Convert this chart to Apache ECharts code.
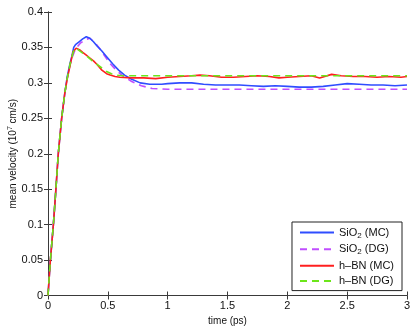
<!DOCTYPE html>
<html><head><meta charset="utf-8">
<script src="https://cdn.jsdelivr.net/npm/echarts@6/dist/echarts.min.js"></script>
<style>html,body{margin:0;padding:0;background:#fff}#c{width:415px;height:326px}</style>
</head><body><div id="c"></div>
<script>
// Data (time in ps, mean velocity in 1e7 cm/s)
const tSiO2MC = [0,0.02,0.045,0.066,0.086,0.114,0.14,0.16,0.185,0.2,0.215,0.23,0.26,0.29,0.32,0.35,0.38,0.41,0.45,0.49,0.54,0.59,0.64,0.7,0.77,0.85,0.95,1.0,1.1,1.2,1.3,1.4,1.5,1.6,1.7,1.8,1.9,2.0,2.1,2.2,2.3,2.4,2.5,2.6,2.7,2.8,2.9,3.0];
const vSiO2MC = [0,0.05,0.1,0.15,0.2,0.25,0.285,0.308,0.328,0.338,0.35,0.354,0.358,0.362,0.365,0.363,0.358,0.352,0.345,0.337,0.327,0.318,0.311,0.305,0.3,0.298,0.298,0.299,0.300,0.300,0.298,0.297,0.297,0.297,0.296,0.295,0.296,0.295,0.294,0.294,0.295,0.297,0.299,0.298,0.297,0.297,0.296,0.297];
const tSiO2DG = [0,0.02,0.045,0.066,0.086,0.114,0.14,0.16,0.185,0.2,0.23,0.27,0.31,0.35,0.39,0.43,0.47,0.52,0.57,0.63,0.7,0.78,0.87,1.0,1.5,2.0,2.5,3.0];
const vSiO2DG = [0,0.05,0.1,0.15,0.2,0.25,0.285,0.306,0.326,0.335,0.348,0.356,0.361,0.363,0.357,0.349,0.339,0.327,0.318,0.309,0.302,0.296,0.292,0.291,0.291,0.291,0.291,0.291];
const tBNMC = [0,0.02,0.045,0.066,0.086,0.114,0.14,0.16,0.185,0.21,0.235,0.25,0.27,0.29,0.32,0.35,0.38,0.41,0.45,0.49,0.52,0.56,0.6,0.7,0.8,0.9,1.0,1.1,1.2,1.27,1.35,1.45,1.55,1.65,1.75,1.85,1.93,2.0,2.1,2.2,2.27,2.37,2.45,2.55,2.65,2.75,2.85,2.95,3.0];
const vBNMC = [0,0.05,0.1,0.15,0.2,0.25,0.285,0.305,0.325,0.344,0.349,0.351,0.346,0.343,0.339,0.335,0.331,0.326,0.318,0.313,0.311,0.309,0.308,0.307,0.307,0.306,0.308,0.309,0.310,0.311,0.310,0.308,0.308,0.309,0.310,0.309,0.307,0.308,0.309,0.310,0.307,0.312,0.310,0.309,0.309,0.308,0.309,0.308,0.309];
const tBNDG = [0,0.02,0.045,0.066,0.086,0.114,0.14,0.16,0.185,0.21,0.226,0.25,0.29,0.33,0.37,0.41,0.45,0.49,0.53,0.57,0.62,0.7,0.8,1.0,1.5,2.0,2.5,3.0];
const vBNDG = [0,0.05,0.1,0.15,0.2,0.25,0.285,0.306,0.327,0.343,0.349,0.347,0.342,0.337,0.331,0.326,0.321,0.316,0.313,0.311,0.310,0.310,0.310,0.310,0.310,0.310,0.310,0.310];
const seriesNames = ['SiO2 (MC)','SiO2 (DG)','h-BN (MC)','h-BN (DG)'];
const xTicks = [0,0.5,1,1.5,2,2.5,3];
const yTicks = [0,0.05,0.1,0.15,0.2,0.25,0.3,0.35,0.4];

const zip = (t,v) => t.map((x,i)=>[x,v[i]]);
const axisColor = '#3a3a3a';
const font = 'Liberation Sans, Arial, sans-serif';
const legendRich = {
  a:{fontSize:11,fontFamily:font,color:'#111'},
  sub:{fontSize:8,fontFamily:font,color:'#111',verticalAlign:'bottom',padding:[6,0,0,0]}
};
function legendFmt(name){
  if(name.startsWith('SiO2')) return '{a|SiO}{sub|2}{a|' + name.slice(4) + '}';
  return '{a|' + name.replace('-', '\u2013') + '}';
}
const chart = echarts.init(document.getElementById('c'), null, {renderer:'canvas'});
const baseX = {type:'value',min:0,max:3,interval:0.5};
const baseY = {type:'value',min:0,max:0.4,interval:0.05};
chart.setOption({
  animation:false,
  backgroundColor:'#fff',
  grid:{left:48,top:12,right:8,bottom:30.5,show:false,containLabel:false,outerBoundsMode:'none'},
  xAxis:[
    Object.assign({},baseX,{position:'bottom',
      name:'time (ps)',nameLocation:'middle',nameGap:21,nameMoveOverlap:false,
      nameTextStyle:{fontSize:10,fontFamily:font,color:'#111'},
      axisLine:{lineStyle:{color:axisColor,width:1}},
      axisTick:{inside:true,length:4,lineStyle:{color:axisColor}},
      axisLabel:{fontSize:11,fontFamily:font,color:'#111',margin:5,
        formatter:v=>xTicks.includes(+v.toFixed(2))?String(+v.toFixed(2)):''},
      splitLine:{show:false}}),
    Object.assign({},baseX,{position:'top',
      axisLine:{lineStyle:{color:axisColor,width:1}},
      axisTick:{inside:true,length:4,lineStyle:{color:axisColor}},
      axisLabel:{show:false},splitLine:{show:false}})
  ],
  yAxis:[
    Object.assign({},baseY,{position:'left',
      name:'mean velocity (10{sup|7} cm/s)',nameLocation:'middle',nameGap:29,nameRotate:90,nameMoveOverlap:false,
      nameTextStyle:{fontSize:10,fontFamily:font,color:'#111',
        rich:{sup:{fontSize:7,fontFamily:font,color:'#111',verticalAlign:'top',padding:[0,0,5,0]}}},
      axisLine:{show:true,lineStyle:{color:axisColor,width:1}},
      axisTick:{show:true,inside:true,length:4,lineStyle:{color:axisColor}},
      axisLabel:{fontSize:11,fontFamily:font,color:'#111',margin:5,
        formatter:v=>String(+v.toFixed(2))},
      splitLine:{show:false}}),
    Object.assign({},baseY,{position:'right',
      axisLine:{show:true,lineStyle:{color:axisColor,width:1}},
      axisTick:{show:true,inside:true,length:4,lineStyle:{color:axisColor}},
      axisLabel:{show:false},splitLine:{show:false}})
  ],
  legend:{
    orient:'vertical',right:13,top:222,
    padding:[5,8,4,7],itemGap:4,
    itemWidth:34,itemHeight:14,
    backgroundColor:'#fff',borderColor:'#222',borderWidth:1,borderRadius:0,
    itemStyle:{opacity:0},
    formatter:legendFmt,
    textStyle:{rich:legendRich,padding:[0,0,0,0]},
    data:seriesNames
  },
  series:[
    {name:seriesNames[0],type:'line',data:zip(tSiO2MC,vSiO2MC),showSymbol:false,symbol:'none',
      lineStyle:{color:'#2f4dff',width:1.6},itemStyle:{color:'#2f4dff'},z:2},
    {name:seriesNames[1],type:'line',data:zip(tSiO2DG,vSiO2DG),showSymbol:false,symbol:'none',
      lineStyle:{color:'#c04dff',width:1.6,type:[7,5]},itemStyle:{color:'#c04dff'},z:1},
    {name:seriesNames[2],type:'line',data:zip(tBNMC,vBNMC),showSymbol:false,symbol:'none',
      lineStyle:{color:'#ff1f1f',width:1.6},itemStyle:{color:'#ff1f1f'},z:3},
    {name:seriesNames[3],type:'line',data:zip(tBNDG,vBNDG),showSymbol:false,symbol:'none',
      lineStyle:{color:'#6ce61a',width:1.6,type:[7,5]},itemStyle:{color:'#6ce61a'},z:4}
  ]
});
</script></body></html>
